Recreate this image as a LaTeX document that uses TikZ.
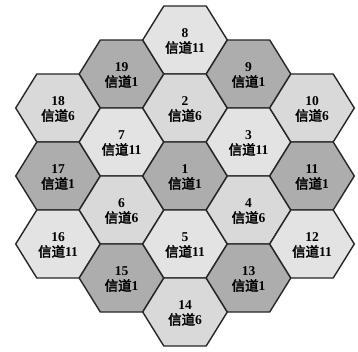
\documentclass[tikz,border=0pt]{standalone}
\usepackage{fontspec}
\setmainfont{Liberation Serif}
\newfontfamily\cjk[AutoFakeBold=2.5]{Noto Sans CJK SC}
\usepackage{tikz}

\begin{document}
\begin{tikzpicture}[x=1pt, y=-1pt,
    cellline/.style={line width=1.4pt, draw=black!85, line join=round},
    ch1/.style={cellline, fill=gray!64},
    ch6/.style={cellline, fill=gray!30},
    ch11/.style={cellline, fill=gray!22},
    celltext/.style={align=center, font=\fontsize{13.5}{15.5}\selectfont\bfseries, inner sep=0pt}]
    \useasboundingbox (0, 0) rectangle (358, 351);

    % 19 cells: number / centre x / centre y / channel
    \foreach \n/\cx/\cy/\ch in {18/58/108/6, 17/58/176/1, 16/58/244/11,
        19/121.5/74/1, 7/121.5/142/11, 6/121.5/210/6, 15/121.5/278/1,
        8/185/40/11, 2/185/108/6, 1/185/176/1, 5/185/244/11, 14/185/312/6,
        9/248.5/74/1, 3/248.5/142/11, 4/248.5/210/6, 13/248.5/278/1,
        10/312/108/6, 11/312/176/1, 12/312/244/11} {
        \draw[ch\ch] (\cx-42.3, \cy) -- (\cx-21.2, \cy-34) -- (\cx+21.2, \cy-34)
            -- (\cx+42.3, \cy) -- (\cx+21.2, \cy+34) -- (\cx-21.2, \cy+34) -- cycle;
        \node[celltext] (cell\n) at (\cx, \cy+1) {\n\\{\cjk\bfseries 信道}\ch};
    }
\end{tikzpicture}
\end{document}
